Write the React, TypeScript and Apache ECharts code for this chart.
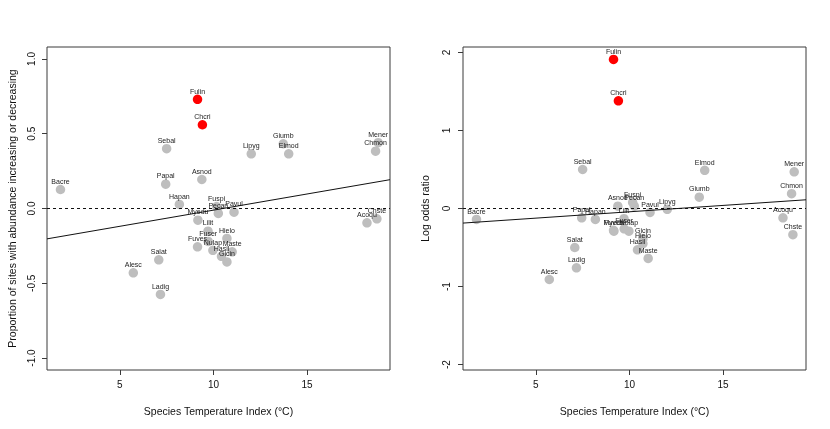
import React, { useEffect, useRef } from "react";
import * as echarts from "echarts";

// Species codes and their Species Temperature Index (°C)
const species = [
  "Fulin", "Chcri", "Sebal", "Bacre", "Papal", "Asnod", "Hapan", "Fuspi", "Pecan", "Pavul",
  "Myedu", "Lilit", "Fuser", "Fuves", "Nulap", "Hasil", "Hielo", "Gicin", "Maste", "Salat",
  "Alesc", "Ladig", "Lipyg", "Giumb", "Elmod", "Mener", "Chmon", "Acoqu", "Chste",
];
const sti = [
  9.15, 9.41, 7.5, 1.83, 7.45, 9.38, 8.18, 10.17, 10.26, 11.1,
  9.17, 9.71, 9.72, 9.15, 9.97, 10.43, 10.72, 10.72, 11.0, 7.08,
  5.72, 7.17, 12.02, 13.73, 14.02, 18.8, 18.66, 18.2, 18.73,
];
// Proportion of sites with abundance increasing or decreasing
const proportion = [
  0.73, 0.56, 0.4, 0.127, 0.163, 0.194, 0.027, 0.013, -0.033, -0.025,
  -0.078, -0.152, -0.22, -0.256, -0.28, -0.32, -0.2, -0.357, -0.29, -0.343,
  -0.43, -0.575, 0.366, 0.433, 0.366, 0.44, 0.383, -0.096, -0.069,
];
// Log odds ratio
const logOdds = [
  1.91, 1.38, 0.5, -0.14, -0.12, 0.03, -0.14, 0.08, 0.03, -0.05,
  -0.29, -0.13, -0.26, -0.28, -0.29, -0.53, -0.45, -0.39, -0.64, -0.5,
  -0.91, -0.76, -0.01, 0.145, 0.49, 0.47, 0.19, -0.12, -0.335,
];
const highlighted = ["Fulin", "Chcri"];

// Fitted regression lines (intercept, slope)
const fitProportion = [-0.227, 0.0216];
const fitLogOdds = [-0.205, 0.0163];

const xMin = 1.11;
const xMax = 19.43;
const xTicks = [5, 10, 15];
const proportionTicks = [-1, -0.5, 0, 0.5, 1];
const logOddsTicks = [-2, -1, 0, 1, 2];

const FONT = "'Liberation Sans', Arial, Helvetica, sans-serif";
const BOX = "#3a3a3a";

function points(values: number[], hi: boolean) {
  return species
    .map((name, i) => ({ name, value: [sti[i], values[i]] }))
    .filter((d) => highlighted.includes(d.name) === hi);
}

function fitLine(coef: number[]) {
  return [xMin, xMax].map((x) => [x, coef[0] + coef[1] * x]);
}

function xAxis(gridIndex: number) {
  return {
    gridIndex,
    type: "value",
    min: xMin,
    max: xMax,
    name: "Species Temperature Index (°C)",
    nameLocation: "middle",
    nameGap: 35,
    nameTextStyle: { fontFamily: FONT, fontSize: 10.5, color: "#111" },
    axisLine: { show: false, onZero: false },
    axisTick: { show: true, inside: false, length: 5, lineStyle: { color: BOX }, customValues: xTicks },
    axisLabel: {
      fontFamily: FONT,
      fontSize: 10,
      color: "#111",
      margin: 9,
      customValues: xTicks,
    },
    axisPointer: { show: false },
    splitLine: { show: false },
  };
}

function yAxis(gridIndex: number, lim: number, ticks: number[], name: string, fmt: (v: number) => string, labelMargin: number, nameGap: number) {
  return {
    gridIndex,
    type: "value",
    min: -lim,
    max: lim,
    name,
    nameLocation: "middle",
    nameGap,
    nameTextStyle: { fontFamily: FONT, fontSize: 10.5, color: "#111" },
    axisLine: { show: false, onZero: false },
    axisTick: { show: true, inside: false, length: 5, lineStyle: { color: BOX }, customValues: ticks },
    axisLabel: {
      fontFamily: FONT,
      fontSize: 10,
      color: "#111",
      rotate: 90,
      margin: labelMargin,
      customValues: ticks,
      formatter: fmt,
    },
    splitLine: { show: false },
  };
}

function scatter(idx: number, values: number[], hi: boolean) {
  return {
    type: "scatter",
    xAxisIndex: idx,
    yAxisIndex: idx,
    symbol: "circle",
    symbolSize: 9.5,
    itemStyle: { color: hi ? "#ff0000" : "#bebebe", opacity: 1 },
    label: {
      show: true,
      position: "top",
      distance: 0,
      formatter: "{b}",
      fontFamily: FONT,
      fontSize: 7,
      color: "#222",
    },
    emphasis: { disabled: true },
    data: points(values, hi),
  };
}

function line(idx: number, coef: number[]) {
  return {
    type: "line",
    xAxisIndex: idx,
    yAxisIndex: idx,
    symbol: "none",
    lineStyle: { color: "#111", width: 1 },
    data: fitLine(coef),
    markLine: {
      silent: true,
      symbol: "none",
      label: { show: false },
      lineStyle: { color: "#111", type: [3, 3], width: 1 },
      data: [{ yAxis: 0 }],
    },
  };
}

export default function App() {
  const ref = useRef<HTMLDivElement>(null);

  useEffect(() => {
    if (!ref.current) return;
    const chart = echarts.init(ref.current, null, { renderer: "svg" });
    chart.setOption({
      animation: false,
      backgroundColor: "#ffffff",
      grid: [
        { left: 47, width: 343, top: 47, bottom: 59, show: true, borderColor: BOX, borderWidth: 1, backgroundColor: "transparent" },
        { left: 463, width: 343, top: 47, bottom: 59, show: true, borderColor: BOX, borderWidth: 1, backgroundColor: "transparent" },
      ],
      xAxis: [xAxis(0), xAxis(1)],
      yAxis: [
        yAxis(0, 1.08, proportionTicks,
          "Proportion of sites with abundance increasing or decreasing",
          (v: number) => v.toFixed(1), 11, 30),
        yAxis(1, 2.07, logOddsTicks, "Log odds ratio",
          (v: number) => String(v), 12, 33),
      ],
      series: [
        scatter(0, proportion, false),
        scatter(0, proportion, true),
        line(0, fitProportion),
        scatter(1, logOdds, false),
        scatter(1, logOdds, true),
        line(1, fitLogOdds),
      ],
    });
    return () => chart.dispose();
  }, []);

  return (
    <div
      ref={ref}
      style={{ width: 830, height: 429, marginLeft: -8, marginTop: -8, willChange: "transform" }}
    />
  );
}
